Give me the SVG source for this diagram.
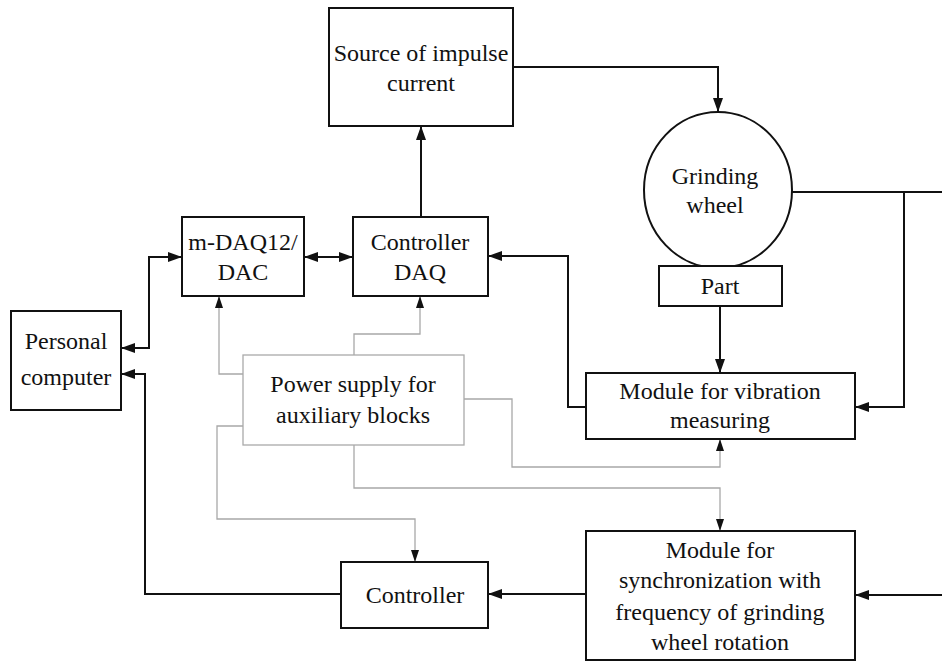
<svg xmlns="http://www.w3.org/2000/svg" width="942" height="661" viewBox="0 0 942 661">
<defs>
<style>
.box{fill:#fff;stroke:#111;stroke-width:2}
.gbox{fill:#fff;stroke:#aaa;stroke-width:1.3}
.t{font-family:"Liberation Serif","Times New Roman",serif;font-size:24px;fill:#111;text-anchor:middle}
.k{fill:none;stroke:#111;stroke-width:2}
.g{fill:none;stroke:#a8a8a8;stroke-width:1.3}
</style>
<marker id="a" viewBox="0 0 14 10" refX="14" refY="5" markerWidth="14" markerHeight="10" markerUnits="userSpaceOnUse" orient="auto-start-reverse">
<path d="M0,0 L14,5 L0,10 z" fill="#111"/>
</marker>
<marker id="s" viewBox="0 0 12 8" refX="12" refY="4" markerWidth="12" markerHeight="8" markerUnits="userSpaceOnUse" orient="auto">
<path d="M0,0 L12,4 L0,8 z" fill="#111"/>
</marker>
</defs>
<rect width="942" height="661" fill="#fff"/>
<g id="connectors">
<path class="k" d="M513,67 H718 V112" marker-end="url(#a)"/>
<path class="k" d="M421,217 V126" marker-end="url(#a)"/>
<path class="k" d="M304,257 H353" marker-start="url(#a)" marker-end="url(#a)"/>
<path class="k" d="M121,348 H149 V257 H182" marker-start="url(#a)" marker-end="url(#a)"/>
<path class="k" d="M341,594 H145 V374 H121" marker-end="url(#a)"/>
<path class="k" d="M586,407 H568 V256 H488" marker-end="url(#a)"/>
<path class="k" d="M720,306 V373" marker-end="url(#a)"/>
<path class="k" d="M792,192 H942"/>
<path class="k" d="M904,192 V407 H855" marker-end="url(#a)"/>
<path class="k" d="M942,595 H855" marker-end="url(#a)"/>
<path class="k" d="M586,594 H488" marker-end="url(#a)"/>
<path class="g" d="M243,374 H219 V296" marker-end="url(#s)"/>
<path class="g" d="M354,355 V334 H420 V296" marker-end="url(#s)"/>
<path class="g" d="M464,399 H512 V467 H720 V439" marker-end="url(#s)"/>
<path class="g" d="M354,445 V488 H720 V531" marker-end="url(#s)"/>
<path class="g" d="M243,426 H217 V519 H415 V562" marker-end="url(#s)"/>
</g>
<g id="source">
<rect class="box" x="329" y="8" width="184" height="118"/>
<text class="t" x="421" y="61">Source of impulse</text>
<text class="t" x="421" y="91">current</text>
</g>
<g id="wheel">
<ellipse cx="718" cy="190" rx="74" ry="78" fill="#fff" stroke="#111" stroke-width="2"/>
<text class="t" x="715" y="184">Grinding</text>
<text class="t" x="715" y="213">wheel</text>
</g>
<g id="part">
<rect class="box" x="659" y="266" width="123" height="40"/>
<text class="t" x="720" y="294">Part</text>
</g>
<g id="mdaq">
<rect class="box" x="182" y="217" width="122" height="79"/>
<text class="t" x="243" y="250">m-DAQ12/</text>
<text class="t" x="243" y="280">DAC</text>
</g>
<g id="controllerdaq">
<rect class="box" x="353" y="217" width="135" height="79"/>
<text class="t" x="420" y="250">Controller</text>
<text class="t" x="420" y="280">DAQ</text>
</g>
<g id="pc">
<rect class="box" x="11" y="311" width="110" height="99"/>
<text class="t" x="66" y="349">Personal</text>
<text class="t" x="66" y="385">computer</text>
</g>
<g id="power">
<rect class="gbox" x="243" y="355" width="221" height="90"/>
<text class="t" x="353" y="392">Power supply for</text>
<text class="t" x="353" y="423">auxiliary blocks</text>
</g>
<g id="vibration">
<rect class="box" x="586" y="373" width="269" height="66"/>
<text class="t" x="720" y="399">Module for vibration</text>
<text class="t" x="720" y="428">measuring</text>
</g>
<g id="controller">
<rect class="box" x="341" y="562" width="147" height="66"/>
<text class="t" x="415" y="603">Controller</text>
</g>
<g id="sync">
<rect class="box" x="586" y="531" width="269" height="129"/>
<text class="t" x="720" y="558">Module for</text>
<text class="t" x="720" y="588">synchronization with</text>
<text class="t" x="720" y="620">frequency of grinding</text>
<text class="t" x="720" y="650">wheel rotation</text>
</g>
</svg>
